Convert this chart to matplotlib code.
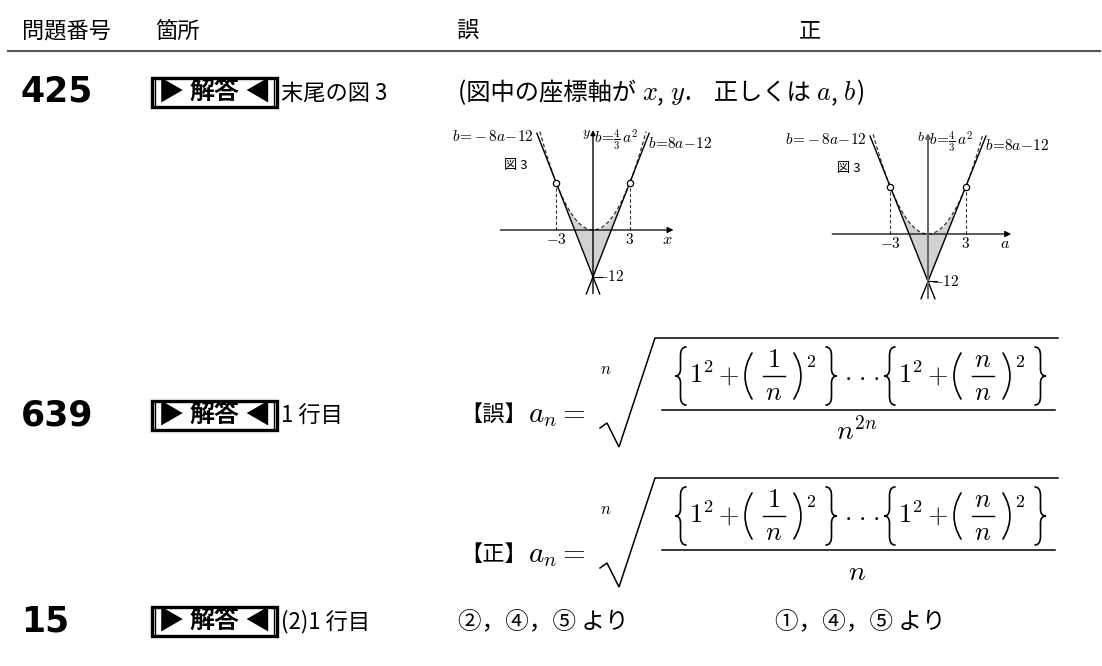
import numpy as np
import matplotlib
matplotlib.use('Agg')
import matplotlib.pyplot as plt
from matplotlib.patches import Rectangle, PathPatch
from matplotlib.path import Path

plt.rcParams['mathtext.fontset'] = 'cm'
plt.rcParams['font.family'] = ['Noto Sans CJK JP', 'DejaVu Sans']

# ---------------- data ----------------
headers = ['問題番号', '箇所', '誤', '正']
problem_numbers = ['425', '639', '15']
badge_parts = ['▶', '解答', '◀']
locations = ['末尾の図 3', '1 行目', '(2)1 行目']
wrong_15 = '②，④，⑤ より'
right_15 = '①，④，⑤ より'
axis_names_wrong = ['x', 'y']
axis_names_right = ['a', 'b']
tangent_a = [-3, 3]
tangent_b = [12, 12]
intercept = -12
slope = 8
coef = 4 / 3
group_numerators = [r'$1$', r'$n$']
group_denominators = [r'$n$', r'$n$']
den_wrong = r'$n^{2n}$'
den_right = r'$n$'

W, H = 1102, 666
fig = plt.figure(figsize=(W / 100, H / 100), dpi=100)
ax = fig.add_axes([0, 0, 1, 1])
ax.set_xlim(0, W)
ax.set_ylim(H, 0)
ax.axis('off')
renderer = fig.canvas.get_renderer()

CJK = ['Noto Sans CJK JP', 'DejaVu Sans']


def seq(x, y, pieces, size):
    for s, kw in pieces:
        opts = dict(va='baseline', ha='left', fontsize=size, family=CJK)
        opts.update(kw)
        t = ax.text(x, y, s, **opts)
        x += t.get_window_extent(renderer).width
    return x


# ---------------- header ----------------
for h, hx, ha in zip(headers, [22, 155, 467, 810], ['left', 'left', 'center', 'center']):
    ax.text(hx, 31, h, ha=ha, va='center', fontsize=16, family=CJK)
ax.plot([8, 1100], [51, 51], color='#555555', lw=1.5)

# ---------------- rows ----------------
row_y = [92, 415, 621]
for num, loc, ry in zip(problem_numbers, locations, row_y):
    ax.text(21, ry, num, ha='left', va='center', fontsize=25,
            family='DejaVu Sans', weight='bold')
    bx0, bx1, by0, by1 = 152, 277, ry - 14.5, ry + 14.5
    ax.add_patch(Rectangle((bx0, by0), bx1 - bx0, by1 - by0, fc='white',
                           ec='black', lw=2.4))
    ax.plot([bx0 + 3.2, bx0 + 3.2], [by0 + 1.5, by1 - 1.5], color='k', lw=1.0)
    ax.plot([bx1 - 3.2, bx1 - 3.2], [by0 + 1.5, by1 - 1.5], color='k', lw=1.0)
    ax.text(bx0 + 6, ry, badge_parts[0], ha='left', va='center',
            fontsize=19, family=CJK)
    ax.text((bx0 + bx1) / 2, ry, badge_parts[1], ha='center', va='center',
            fontsize=18, family=CJK, weight='bold')
    ax.text(bx1 - 6, ry, badge_parts[2], ha='right', va='center',
            fontsize=19, family=CJK)
    ax.text(281, ry + 1, loc, ha='left', va='center', fontsize=16, family=CJK)

# row 425 description
seq(458, 100, [('(図中の座標軸が ', {}),
               ('$' + axis_names_wrong[0] + '$', {'fontsize': 19}),
               (', ', {}),
               ('$' + axis_names_wrong[1] + '$', {'fontsize': 19}),
               ('.    正しくは ', {}),
               ('$' + axis_names_right[0] + '$', {'fontsize': 19}),
               (', ', {}),
               ('$' + axis_names_right[1] + '$', {'fontsize': 19}),
               (')', {})], 17.5)


# ---------------- graphs ----------------
def graph(ox, oy, sx, sy, xl, yl, ycol):
    amin, amax, bmin, bmax = -8, 7, -17, 26
    left, right = ox + amin * sx, ox + amax * sx
    top, bottom = oy - bmax * sy, oy - bmin * sy
    g = fig.add_axes([left / W, 1 - bottom / H, (right - left) / W,
                      (bottom - top) / H])
    g.set_xlim(amin, amax)
    g.set_ylim(bmin, bmax)
    g.axis('off')
    a = np.linspace(tangent_a[0], tangent_a[1], 400)
    g.fill_between(a, slope * np.abs(a) + intercept, coef * a ** 2,
                   color='#d2d2d2', lw=0, zorder=1)
    ap = np.linspace(-4.35, 4.35, 400)
    g.plot(ap, coef * ap ** 2, color='#333333', lw=0.9, ls=(0, (3, 2)), zorder=3)
    for s in (-1, 1):
        al = np.array([s * 4.6, -s * 0.55])
        g.plot(al, s * slope * al + intercept, color='k', lw=1.0, zorder=3)
    g.annotate('', xy=(6.6, 0), xytext=(-7.6, 0),
               arrowprops=dict(arrowstyle='-|>', lw=0.9, color='k',
                               mutation_scale=9, shrinkA=0, shrinkB=0), zorder=4)
    g.annotate('', xy=(0, 25.6), xytext=(0, -16.3),
               arrowprops=dict(arrowstyle='-|>', lw=1.0 if ycol == 'k' else 1.4,
                               color=ycol, mutation_scale=7, shrinkA=0, shrinkB=0),
               zorder=4)
    for ta, tb in zip(tangent_a, tangent_b):
        g.plot([ta, ta], [0, tb], color='#333333', lw=0.8, ls=(0, (3, 2)), zorder=3)
    g.plot(tangent_a, tangent_b, 'o', mfc='white', mec='k', ms=4.5, mew=0.9, zorder=5)
    g.plot([0, 0.7], [intercept, intercept], color='k', lw=0.8, zorder=4)
    px = lambda av: ox + av * sx
    py = lambda bv: oy - bv * sy
    ax.text(px(-3), py(0) + 9, r'$-3$', ha='center', va='center', fontsize=11)
    ax.text(px(3), py(0) + 9, r'$3$', ha='center', va='center', fontsize=11)
    ax.text(px(0) - 8, py(0) + 9, r'$\mathrm{O}$', ha='center', va='center', fontsize=11)
    ax.text(px(6.1), py(0) + 10, '$' + xl + '$', ha='center', va='center', fontsize=11.5)
    ax.text(px(0) - 7, py(24.5), '$' + yl + '$', ha='center', va='center', fontsize=10)
    ax.text(px(0) + 3, py(intercept), r'$-12$', ha='left', va='center', fontsize=11)
    ax.text(px(-6.3), py(16.5), '図 3', ha='center', va='center', fontsize=9.5, family=CJK)
    ax.text(px(-4.9), py(24.0), r'$b\!=\!-8a\!-\!12$', ha='right', va='center', fontsize=11)
    ax.text(px(0) + 1, py(23.3), r'$b\!=\!\frac{4}{3}\,a^2$', ha='left', va='center', fontsize=11)
    ax.text(px(4.5), py(22.3), r'$b\!=\!8a\!-\!12$', ha='left', va='center', fontsize=11)


graph(593, 230, 12.2, 3.9, axis_names_wrong[0], axis_names_wrong[1], 'k')
graph(928, 234, 12.6, 3.95, axis_names_right[0], axis_names_right[1], '#666666')


# ---------------- formula helpers ----------------
def brace(x0, yc, h, w, side):
    if side == 'l':
        xe, xm, xt = x0 + w, x0 + w / 2, x0
    else:
        xe, xm, xt = x0, x0 + w / 2, x0 + w
    yt, yb = yc - h / 2, yc + h / 2
    verts = [(xe, yt), (xm, yt), (xm, yt + 0.15 * h), (xm, yc - 0.12 * h),
             (xm, yc), (xt, yc), (xm, yc), (xm, yc + 0.12 * h),
             (xm, yb - 0.15 * h), (xm, yb), (xe, yb)]
    codes = [Path.MOVETO, Path.CURVE3, Path.CURVE3, Path.LINETO,
             Path.CURVE3, Path.CURVE3, Path.CURVE3, Path.CURVE3,
             Path.LINETO, Path.CURVE3, Path.CURVE3]
    ax.add_patch(PathPatch(Path(verts, codes), fill=False, lw=1.2,
                           ec='black', capstyle='round'))


def paren(x0, yc, h, w, side):
    yt, yb = yc - h / 2, yc + h / 2
    if side == 'l':
        verts = [(x0 + w, yt), (x0 - w, yc), (x0 + w, yb)]
    else:
        verts = [(x0, yt), (x0 + 2 * w, yc), (x0, yb)]
    ax.add_patch(PathPatch(Path(verts, [Path.MOVETO, Path.CURVE3, Path.CURVE3]),
                           fill=False, lw=1.2, ec='black', capstyle='round'))


F = 19


def group(x, yc, num, den):
    base = yc + 7
    brace(x, yc, 58, 11, 'l')
    ax.text(x + 14, base, r'$1^2$', ha='left', va='baseline', fontsize=F)
    ax.text(x + 53, base, r'$+$', ha='center', va='baseline', fontsize=F)
    paren(x + 70, yc, 46, 7, 'l')
    cx = x + 99
    ax.text(cx, yc - 3, num, ha='center', va='bottom', fontsize=F)
    ax.plot([cx - 11, cx + 11], [yc, yc], color='k', lw=1.0)
    ax.text(cx, yc + 3, den, ha='center', va='top', fontsize=F)
    paren(x + 119, yc, 46, 7, 'r')
    ax.text(x + 131, yc - 23, r'$2$', ha='left', va='top', fontsize=F * 0.68)
    brace(x + 151, yc, 58, 11, 'r')


def formula(tag, yb, den):
    ax.text(460, yb + 4, tag, ha='left', va='center', fontsize=16, family=CJK)
    ax.text(528, yb + 4, r'$a_n=$', ha='left', va='center', fontsize=21)
    ax.text(606, yb - 40, r'$n$', ha='center', va='center', fontsize=12)
    top = yb - 72
    ax.plot([600, 607, 619, 655, 1058], [yb + 18, yb + 13, yb + 37, top, top],
            color='k', lw=1.1, solid_joinstyle='miter')
    ax.plot([662, 1055], [yb, yb], color='k', lw=1.1)
    yc = yb - 34
    group(675, yc, group_numerators[0], group_denominators[0])
    for dx in (848, 862, 876):
        ax.text(dx, yc + 7, r'$\cdot$', ha='center', va='baseline', fontsize=F)
    group(884, yc, group_numerators[1], group_denominators[1])
    ax.text(857, yb + 22, den, ha='center', va='center', fontsize=20)


formula('【誤】', 410, den_wrong)
formula('【正】', 550, den_right)

# row 15 descriptions
ax.text(458, 622, wrong_15, ha='left', va='center', fontsize=17, family=CJK)
ax.text(775, 622, right_15, ha='left', va='center', fontsize=17, family=CJK)

fig.savefig('out.png', dpi=100)
